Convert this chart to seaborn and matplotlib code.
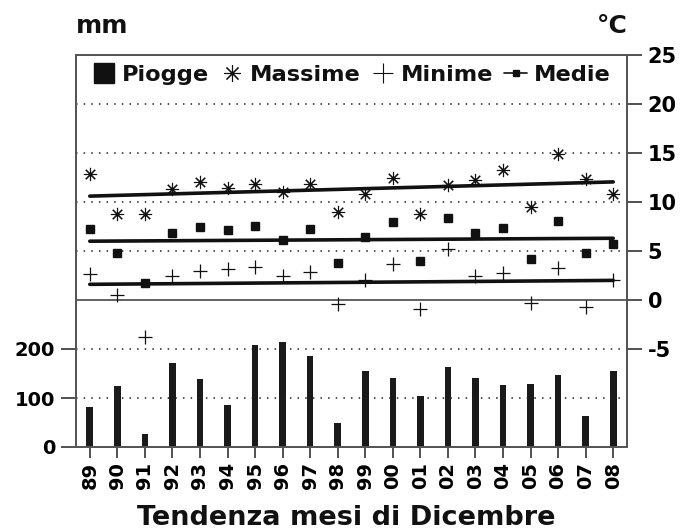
import numpy as np
import pandas as pd
import matplotlib
matplotlib.use("Agg")
import matplotlib.pyplot as plt
from matplotlib.lines import Line2D
import seaborn as sns

years = ["89", "90", "91", "92", "93", "94", "95", "96", "97", "98",
         "99", "00", "01", "02", "03", "04", "05", "06", "07", "08"]
piogge = [82, 124, 27, 172, 138, 85, 209, 214, 185, 48,
          156, 140, 105, 164, 140, 127, 129, 146, 64, 156]
massime = [12.9, 8.8, 8.8, 11.3, 12.0, 11.4, 11.8, 11.0, 11.8, 9.0,
           10.8, 12.4, 8.8, 11.7, 12.2, 13.3, 9.5, 14.9, 12.3, 10.8]
minime = [2.7, 0.5, -3.8, 2.5, 3.0, 3.2, 3.4, 2.4, 2.9, -0.4,
          2.0, 3.7, -0.9, 5.2, 2.4, 2.8, -0.3, 3.3, -0.7, 2.0]
medie = [7.2, 4.75, 1.7, 6.8, 7.5, 7.1, 7.6, 6.1, 7.2, 3.8,
         6.4, 8.0, 4.0, 8.4, 6.8, 7.3, 4.2, 8.1, 4.75, 5.7]
# trend lines (start, end)
trend_max = [10.6, 12.05]
trend_med = [6.0, 6.3]
trend_min = [1.6, 2.0]

temp_ticks = [-5, 0, 5, 10, 15, 20, 25]
rain_ticks = [0, 100, 200]
grid_levels = [-10, -5, 5, 10, 15, 20]

sns.set_theme(style="white")
plt.rcParams["font.family"] = ["DejaVu Sans"]
plt.rcParams["font.weight"] = "bold"
plt.rcParams["xtick.bottom"] = True
plt.rcParams["ytick.left"] = True
plt.rcParams["ytick.right"] = True
plt.rcParams["xtick.color"] = "black"
plt.rcParams["ytick.color"] = "black"

fig = plt.figure(figsize=(6.89, 5.31), dpi=100)
ax = fig.add_axes([76/689, 1-447/531, (627-76)/689, (447-55)/531])
ax.set_facecolor("white")

df = pd.DataFrame({"anno": years, "piogge": piogge})
sns.barplot(data=df, x="anno", y="piogge", order=years, color="#1a1a1a",
            width=0.24, ax=ax, saturation=1, edgecolor="#1a1a1a", linewidth=0)
ax.set_ylim(0, 800)
ax.set_xlim(-0.5, len(years) - 0.5)
ax.set_yticks(rain_ticks)
ax.set_yticklabels([str(t) for t in rain_ticks], fontsize=14, fontweight="bold")
ax.set_xlabel("")
ax.set_ylabel("")
ax.tick_params(axis="x", direction="out", length=8, width=1.2, color="#333333",
               labelsize=14, rotation=90, pad=3, bottom=True, labelcolor="black")
ax.tick_params(axis="y", direction="out", length=11, width=1.2, color="#333333",
               pad=4, left=True, labelcolor="black")
for lbl in ax.get_xticklabels():
    lbl.set_fontweight("bold")

axt = ax.twinx()
axt.set_ylim(-15, 25)
axt.set_yticks(temp_ticks)
axt.set_yticklabels([str(t) for t in temp_ticks], fontsize=15, fontweight="bold")
axt.tick_params(axis="y", direction="out", length=11, width=1.2, color="#333333",
                pad=4, right=True, left=False, labelcolor="black")

for g in grid_levels:
    axt.axhline(g, color="#222222", linestyle=(0, (1, 4)), linewidth=1.1, zorder=1)
axt.axhline(0, color="#555555", linewidth=1.3, zorder=1)

xpos = np.arange(len(years))
xends = [xpos[0], xpos[-1]]
for tr in (trend_max, trend_med, trend_min):
    sns.lineplot(x=xends, y=tr, ax=axt, color="#111111", linewidth=2.6, zorder=3)

axt.plot(xpos, massime, linestyle="none", marker=(8, 2, 0), markersize=9.5,
         color="#111111", markeredgewidth=0.8, zorder=4)
axt.plot(xpos, minime, linestyle="none", marker="+", markersize=10.5,
         color="#111111", markeredgewidth=0.9, zorder=4)
axt.plot(xpos, medie, linestyle="none", marker="s", markersize=5.5,
         color="#111111", zorder=4)

for a in (ax, axt):
    for s in a.spines.values():
        s.set_color("#555555")
        s.set_linewidth(1.3)

handles = [
    Line2D([], [], linestyle="none", marker="s", markersize=15, color="#111111"),
    Line2D([], [], linestyle="none", marker=(8, 2, 0), markersize=12,
           color="#111111", markeredgewidth=0.8),
    Line2D([], [], linestyle="none", marker="+", markersize=15,
           color="#111111", markeredgewidth=0.8),
    Line2D([], [], linestyle="-", linewidth=1.2, marker="s", markersize=5,
           color="#111111"),
]
labels = ["Piogge", "Massime", "Minime", "Medie"]
leg = axt.legend(handles, labels, loc="upper center", bbox_to_anchor=(0.5, 1.014),
                 ncol=4, frameon=False, handlelength=1.0, handletextpad=0.3,
                 columnspacing=0.5, prop={"size": 16.2, "weight": "bold"},
                 borderaxespad=0.3, labelcolor="#111111")

fig.text(76/689, 1-33/531, "mm", fontsize=18, fontweight="bold", ha="left",
         va="baseline", color="#111111")
fig.text(628/689, 1-33/531, "°C", fontsize=18, fontweight="bold", ha="right",
         va="baseline", color="#111111")
fig.text(0.503, 1-525/531, "Tendenza mesi di Dicembre", fontsize=19.5,
         fontweight="bold", ha="center", va="baseline", color="#111111")

fig.savefig("out.png", dpi=100)
